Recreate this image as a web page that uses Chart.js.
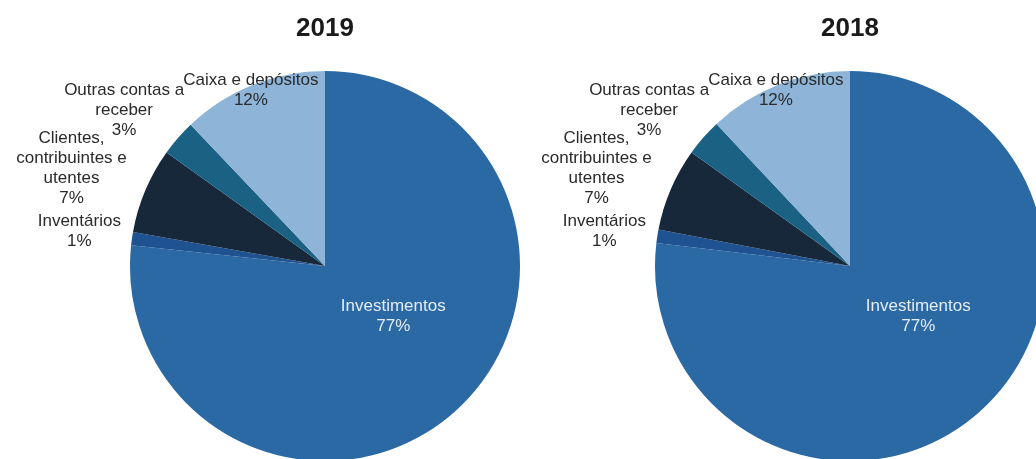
<!DOCTYPE html>
<html>
<head>
<meta charset="utf-8">
<script src="https://cdn.jsdelivr.net/npm/chart.js@4.4.1/dist/chart.umd.min.js"></script>
<style>
    html, body { margin: 0; padding: 0; background: #ffffff; }
    body { width: 1036px; height: 459px; overflow: hidden; position: relative; }
    .caixa { position: absolute; top: 0; width: 520px; height: 486px; }
    #caixa2019 { left: 0; }
    #caixa2018 { left: 527px; }
</style>
</head>
<body>
<div class="caixa" id="caixa2019"><canvas id="grafico_2019"></canvas></div>
<div class="caixa" id="caixa2018"><canvas id="grafico_2018"></canvas></div>
<script>
// categorias (já partidas em linhas como no original)
const categorias = [
    ['Investimentos'],
    ['Inventários'],
    ['Clientes,', 'contribuintes e', 'utentes'],
    ['Outras contas a', 'receber'],
    ['Caixa e depósitos']
];
const valores2019 = [76.7, 1.1, 7.1, 3.0, 12.1];
const valores2018 = [76.9, 1.1, 6.9, 3.1, 12.0];
const cores = ['#2b69a4', '#1f5290', '#17283b', '#1b6184', '#8eb4d7'];

// posição dos rótulos relativa ao centro, em unidades do raio
const posRotulos = [[0.35, 0.26], [-1.26, -0.18], [-1.30, -0.50], [-1.03, -0.80], [-0.38, -0.90]];

const rotulosPlugin = {
    id: 'rotulos',
    afterDatasetsDraw(chart) {
        const ctx = chart.ctx;
        const meta = chart.getDatasetMeta(0);
        const dados = chart.data.datasets[0].data;
        ctx.save();
        ctx.font = '17px "Liberation Sans", Arial, sans-serif';
        ctx.textAlign = 'center';
        ctx.textBaseline = 'middle';
        meta.data.forEach((arc, i) => {
            const r = arc.outerRadius;
            const linhas = chart.data.labels[i].concat([Math.round(dados[i]) + '%']);
            const cx = arc.x + posRotulos[i][0] * r;
            const cy = arc.y + posRotulos[i][1] * r;
            const alt = 20;
            const topo = cy - (linhas.length - 1) * alt / 2;
            ctx.fillStyle = i === 0 ? '#e4ecf5' : '#2a2a2a';
            linhas.forEach((t, k) => ctx.fillText(t, cx, topo + k * alt));
        });
        ctx.restore();
    }
};

function criarPizza(id, titulo, valores, padEsq) {
    const ctx = document.getElementById(id).getContext('2d');
    return new Chart(ctx, {
        type: 'pie',
        data: {
            labels: categorias,
            datasets: [{
                data: valores,
                backgroundColor: cores,
                borderWidth: 0,
                clip: false
            }]
        },
        options: {
            responsive: true,
            maintainAspectRatio: false,
            animation: false,
            radius: 195,
            layout: { padding: { left: padEsq, right: 0, top: 0, bottom: 0 } },
            plugins: {
                legend: { display: false },
                tooltip: { enabled: false },
                title: {
                    display: true,
                    text: titulo,
                    color: '#1a1a1a',
                    font: { family: '"Liberation Sans", Arial, sans-serif', size: 26, weight: 'bold' },
                    padding: { top: 13, bottom: 2 }
                }
            }
        },
        plugins: [rotulosPlugin]
    });
}

criarPizza('grafico_2019', '2019', valores2019, 130);
criarPizza('grafico_2018', '2018', valores2018, 126);
</script>
</body>
</html>
